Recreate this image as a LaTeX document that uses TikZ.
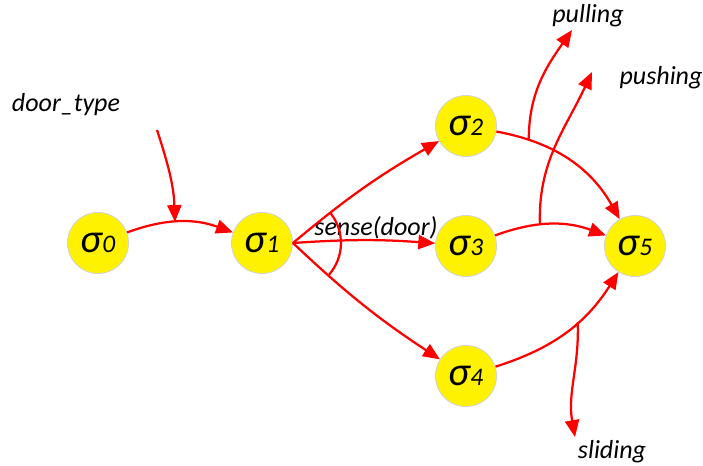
\documentclass[tikz,border=0pt]{standalone}
\usepackage{fontspec}
\setmainfont{Carlito}
\usepackage{tikz}
\usetikzlibrary{arrows.meta, positioning}

\begin{document}
\begin{tikzpicture}[
    x=0.025cm, y=0.025cm,
    state/.style={draw=gray!35, line width=0.6pt, circle, fill=yellow, minimum size=1.525cm, inner sep=0pt, font=\itshape},
    lbl/.style={font=\fontsize{18.5}{21}\selectfont\itshape},
    arrow/.style={-{Triangle[length=12pt, width=10pt]}, line width=1.6pt, draw=red},
    plain/.style={line width=1.6pt, draw=red}
]
\useasboundingbox (0,0) rectangle (703,466);
\newcommand{\sig}[1]{{\fontsize{29}{30}\selectfont σ}{\fontsize{18}{20}\selectfont #1}}

% Nodes
\node (s0) [state] at (98,223) {\sig{0}};
\node (s1) [state] at (262,223) {\sig{1}};
\node (s2) [state] at (466,340) {\sig{2}};
\node (s3) [state] at (466,220) {\sig{3}};
\node (s4) [state] at (466,90) {\sig{4}};
\node (s5) [state] at (635,220) {\sig{5}};

% Labels
\node (doortype) [lbl] at (66,361) {door\_type};
\node (sense) [lbl] at (376,238) {sense(door)};
\node (pulling) [lbl] at (588,450) {pulling};
\node (pushing) [lbl] at (661,388) {pushing};
\node (sliding) [lbl] at (612,14) {sliding};
\coordinate (dtstart) at (157,336);
\coordinate (pullend) at (572,436);
\coordinate (pushend) at (592,394);
\coordinate (slideend) at (575,29);

% Paths
\draw [arrow] (s0) to[bend left=20] coordinate[pos=0.45] (m01) (s1);
\draw [arrow] (dtstart) to[out=-72, in=92] (m01);
\draw [arrow] (s1.east) to[bend left=5] (s2);
\draw [arrow] (s1.east) to[bend left=4] (s3);
\draw [arrow] (s1.east) to[bend right=5] (s4);
\draw [plain] (s1.east) ++(38:1.2cm) arc[start angle=38, end angle=-41, radius=1.2cm];
\draw [arrow] (s2) to[bend left=25] coordinate[pos=0.2] (m25) (s5);
\draw [arrow] (s3) to[bend left=20] coordinate[pos=0.4] (m35) (s5);
\draw [arrow] (s4) to[bend right=20] coordinate[pos=0.6] (m45) (s5);
\draw [arrow] (m25) to[out=90, in=235] (pullend);
\draw [arrow] (m35) to[out=92, in=245] (pushend);
\draw [arrow] (m45) to[out=-88, in=100] (slideend);

\end{tikzpicture}
\end{document}
